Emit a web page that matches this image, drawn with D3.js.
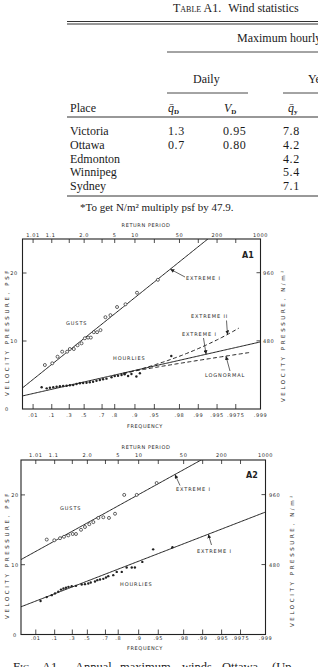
<!DOCTYPE html>
<html>
<head>
<meta charset="utf-8">
<script src="https://cdn.jsdelivr.net/npm/d3@7"></script>
<style>
    body { margin: 0; background: #fff; }
    svg { display: block; }
    .tbl { font-family: "Liberation Serif", "Times New Roman", serif; font-size: 12px; fill: #1a1a1a; }
    .lab { font-family: "DejaVu Sans", sans-serif; font-size: 5px; fill: #2a2a2a; letter-spacing: 0.6px; }
    .ann { font-family: "DejaVu Sans", sans-serif; font-size: 5px; fill: #2a2a2a; letter-spacing: 0.9px; }
    .ttl { font-family: "DejaVu Sans", sans-serif; font-size: 5.5px; fill: #2a2a2a; letter-spacing: 2.6px; }
</style>
</head>
<body>
<svg id="fig" width="318" height="667"></svg>
<script>
// Tableau A1
const places = ["Victoria", "Ottawa", "Edmonton", "Winnipeg", "Sydney"];
const dailyQ = [1.3, 0.7, null, null, null];
const dailyV = [0.95, 0.80, null, null, null];
const yearlyQ = [7.8, 4.2, 4.2, 5.4, 7.1];

// Graduations
const freqTicks = [0.01, 0.1, 0.3, 0.5, 0.7, 0.8, 0.9, 0.95, 0.98, 0.99, 0.995, 0.9975, 0.999];
const freqLabels = [".01", ".1", ".3", ".5", ".7", ".8", ".9", ".95", ".98", ".99", ".995", ".9975", ".999"];
const returnPeriods = [1.01, 1.1, 2, 5, 10, 50, 200, 1000];
const returnLabels = ["1.01", "1.1", "2.0", "5", "10", "50", "200", "1000"];
const psfTicks = [10, 20];
const nm2Ticks = [480, 960];

// A1 : rafales et horaires
const a1GustF = [0.051, 0.104, 0.156, 0.209, 0.272, 0.308, 0.362, 0.413, 0.466, 0.509, 0.550, 0.582, 0.616, 0.651, 0.685, 0.730, 0.770, 0.815, 0.861, 0.907, 0.956];
const a1GustQ = [6.47, 6.72, 7.69, 8.43, 8.43, 8.82, 8.82, 9.37, 9.66, 10.4, 10.5, 10.5, 11.3, 11.3, 11.6, 13.5, 13.8, 15.0, 15.4, 17.1, 19.0];
const a1HourF = [0.035, 0.062, 0.085, 0.113, 0.146, 0.182, 0.221, 0.265, 0.308, 0.353, 0.399, 0.444, 0.487, 0.530, 0.570, 0.608, 0.645, 0.679, 0.709, 0.739, 0.778, 0.800, 0.821, 0.841, 0.857, 0.873, 0.887, 0.905, 0.916, 0.973];
const a1HourQ = [3.19, 3.04, 3.13, 3.19, 3.28, 3.34, 3.38, 3.43, 3.49, 3.53, 3.68, 3.78, 3.82, 3.87, 3.93, 4.01, 4.16, 4.26, 4.37, 4.46, 4.66, 4.85, 4.90, 5.00, 5.10, 4.85, 5.15, 4.78, 5.25, 7.79];
const a1GustFit = [9.22, 3.186];     // q = a + b*u (Extreme I)
const a1HourFit = [3.65, 0.9];       // Extreme I
const a1Ext2Fit = [3.64, 0.194];     // q = s*exp(c*u) (Extreme II)
const a1LogFit = [1.421, 0.2346];    // ln q = m + s*z (lognormal)

// A2
const a2GustF = [0.046, 0.097, 0.151, 0.195, 0.247, 0.305, 0.349, 0.417, 0.469, 0.524, 0.573, 0.629, 0.680, 0.731, 0.778, 0.836, 0.893, 0.947];
const a2GustQ = [13.6, 13.5, 13.8, 14.0, 14.2, 14.4, 14.4, 15.0, 15.4, 15.8, 16.1, 16.7, 16.8, 16.7, 17.3, 20.0, 20.0, 21.7];
const a2HourF = [0.021, 0.046, 0.077, 0.103, 0.133, 0.161, 0.189, 0.219, 0.250, 0.292, 0.349, 0.426, 0.469, 0.512, 0.542, 0.592, 0.618, 0.647, 0.680, 0.705, 0.725, 0.765, 0.790, 0.822, 0.849, 0.873, 0.886, 0.912, 0.940, 0.970];
const a2HourQ = [4.79, 5.36, 5.64, 5.89, 6.14, 6.43, 6.60, 6.69, 6.83, 6.93, 6.97, 7.17, 7.21, 7.31, 7.46, 7.60, 7.79, 7.89, 7.97, 8.17, 8.36, 8.50, 8.97, 8.97, 9.60, 9.60, 9.60, 10.4, 12.2, 12.5];
const a2GustFit = [15.2, 2.157];
const a2HourFit = [7.1, 1.512];

const PSF_TO_NM2 = 47.9;

// Variable réduite de Gumbel
const gumbel = F => -Math.log(-Math.log(F));
const probit = p => {
    const q = p < 0.5 ? p : 1 - p;
    const t = Math.sqrt(-2 * Math.log(q));
    const z = t - (2.515517 + 0.802853 * t + 0.010328 * t * t) / (1 + 1.432788 * t + 0.189269 * t * t + 0.001308 * t * t * t);
    return p < 0.5 ? -z : z;
};
const ext1 = p => u => p[0] + p[1] * u;
const ext2 = p => u => p[0] * Math.exp(p[1] * u);
const logn = p => u => Math.exp(p[0] + p[1] * probit(Math.exp(-Math.exp(-u))));

const svg = d3.select("#fig");
const ink = "#222";

// ---- Tableau
const t = svg.append("g");
const title = t.append("text").attr("class", "tbl").attr("x", 173).attr("y", 12);
title.append("tspan").style("font-variant", "small-caps").text("Table A1.");
title.append("tspan").attr("dx", 7).text("Wind statistics");

const rule = (x1, x2, yy, w) => t.append("line")
    .attr("x1", x1).attr("x2", x2).attr("y1", yy).attr("y2", yy)
    .attr("stroke", "#333").attr("stroke-width", w || 0.9);
rule(67, 318, 21.5, 1); rule(67, 318, 24, 1);
t.append("text").attr("class", "tbl").attr("x", 237).attr("y", 42).text("Maximum hourly");
rule(167, 318, 52);
t.append("text").attr("class", "tbl").attr("x", 193).attr("y", 83).text("Daily");
t.append("text").attr("class", "tbl").attr("x", 308).attr("y", 83).text("Yearly");
rule(167, 248, 93); rule(283, 318, 93);
t.append("text").attr("class", "tbl").attr("x", 70).attr("y", 112).text("Place");

function symbol(xx, letter, sub) {
    const s = t.append("text").attr("class", "tbl").attr("x", xx).attr("y", 112);
    s.append("tspan").style("font-style", "italic").text(letter);
    s.append("tspan").attr("dy", 2).style("font-size", "7px").style("font-weight", "bold").text(sub);
}
symbol(168, "q\u0304", "D");
symbol(224, "V", "D");
symbol(288, "q\u0304", "y");
rule(67, 318, 117, 1.2);

places.forEach((p, i) => {
    const yy = 135 + i * 13.75;
    t.append("text").attr("class", "tbl").attr("x", 70).attr("y", yy).text(p);
    if (dailyQ[i] != null) t.append("text").attr("class", "tbl").attr("x", 168).attr("y", yy).style("letter-spacing", "0.6px").text(dailyQ[i].toFixed(1));
    if (dailyV[i] != null) t.append("text").attr("class", "tbl").attr("x", 223).attr("y", yy).style("letter-spacing", "0.6px").text(dailyV[i].toFixed(2));
    t.append("text").attr("class", "tbl").attr("x", 283).attr("y", yy).style("letter-spacing", "0.6px").text(yearlyQ[i].toFixed(1));
});
rule(67, 318, 196, 1);
t.append("text").attr("class", "tbl").attr("x", 80).attr("y", 211).style("font-size", "11px")
    .text("*To get N/m\u00b2 multiply psf by " + PSF_TO_NM2 + ".");

// ---- Graphiques
svg.append("defs").append("marker")
    .attr("id", "arr").attr("viewBox", "0 0 6 6").attr("refX", 6).attr("refY", 3)
    .attr("markerWidth", 4).attr("markerHeight", 4).attr("markerUnits", "userSpaceOnUse")
    .attr("orient", "auto")
    .append("path").attr("d", "M0,0 L6,3 L0,6 Z").attr("fill", ink);

function drawChart(c) {
    const g = svg.append("g");
    const x = d3.scaleLinear().domain([c.uMin, gumbel(0.999)]).range([c.left, c.right]);
    const y = d3.scaleLinear().domain([0, 25]).range([c.bottom, c.top]);
    const yN = d3.scaleLinear().domain([0, 25 * PSF_TO_NM2]).range([c.bottom, c.top]);
    const xF = F => x(gumbel(F));

    g.append("clipPath").attr("id", "clip" + c.tag).append("rect")
        .attr("x", c.left).attr("y", c.top).attr("width", c.right - c.left).attr("height", c.bottom - c.top);

    // cadre
    g.append("rect").attr("x", c.left).attr("y", c.top)
        .attr("width", c.right - c.left).attr("height", c.bottom - c.top)
        .attr("fill", "none").attr("stroke", ink).attr("stroke-width", 1.1);

    // graduations haut / bas
    g.selectAll(".tt").data(freqTicks.slice(0, -1)).join("line")
        .attr("x1", xF).attr("x2", xF).attr("y1", c.top).attr("y2", c.top + 4)
        .attr("stroke", ink).attr("stroke-width", 0.8);
    g.selectAll(".bt").data(freqTicks.slice(0, -1)).join("line")
        .attr("x1", xF).attr("x2", xF).attr("y1", c.bottom).attr("y2", c.bottom - 5)
        .attr("stroke", ink).attr("stroke-width", 0.8);
    g.selectAll(".bl").data(freqTicks).join("text").attr("class", "lab")
        .attr("x", xF).attr("y", c.fqLabelY).attr("text-anchor", "middle")
        .text((d, i) => freqLabels[i]);
    g.selectAll(".tl").data(returnPeriods).join("text").attr("class", "lab")
        .attr("x", d => xF(1 - 1 / d)).attr("y", c.rpLabelY).attr("text-anchor", "middle")
        .text((d, i) => returnLabels[i]);
    g.append("text").attr("class", "lab").attr("x", 146).attr("y", c.rpTitleY)
        .attr("text-anchor", "middle").text("RETURN PERIOD");
    g.append("text").attr("class", "lab").attr("x", 145).attr("y", c.fqTitleY)
        .attr("text-anchor", "middle").text("FREQUENCY");

    // axe gauche (psf)
    g.selectAll(".lt").data(psfTicks).join("line")
        .attr("x1", c.left).attr("x2", c.left + 4).attr("y1", y).attr("y2", y)
        .attr("stroke", ink).attr("stroke-width", 0.8);
    g.selectAll(".ll").data(psfTicks).join("text").attr("class", "lab")
        .attr("x", c.leftLabX).attr("y", d => y(d) + 2).attr("text-anchor", "middle").text(d => d);
    g.append("text").attr("class", "lab").attr("x", c.zeroX).attr("y", y(0) + 2)
        .attr("text-anchor", "middle").text("0");
    g.append("text").attr("class", "ttl")
        .attr("transform", `translate(${c.leftTitleX},${c.titleMidY}) rotate(-90)`)
        .attr("text-anchor", "middle").text("VELOCITY PRESSURE, PSF");

    // axe droit (N/m2)
    g.selectAll(".rt").data(nm2Ticks).join("line")
        .attr("x1", c.right - 4).attr("x2", c.right).attr("y1", yN).attr("y2", yN)
        .attr("stroke", ink).attr("stroke-width", 0.8);
    g.selectAll(".rl").data(nm2Ticks).join("text").attr("class", "lab")
        .attr("x", c.rightLabX).attr("y", d => yN(d) + 2).text(d => d);
    g.append("text").attr("class", "ttl")
        .attr("transform", `translate(${c.rightTitleX},${c.rightTitleMidY}) rotate(-90)`)
        .attr("text-anchor", "middle").text("VELOCITY PRESSURE, N/m\u00b2");

    g.append("text").attr("x", c.tagX).attr("y", c.tagY)
        .style("font-family", "'DejaVu Sans', sans-serif").style("font-size", "8px")
        .style("font-weight", "bold").attr("fill", ink).text(c.tag);

    // courbes ajustées
    const lines = g.append("g").attr("clip-path", `url(#clip${c.tag})`);
    const line = d3.line().x(d => x(d[0])).y(d => y(d[1]));
    c.fits.forEach(f => {
        const u0 = f.from != null ? gumbel(f.from) : c.uMin;
        const u1 = f.to != null ? gumbel(f.to) : gumbel(0.999);
        const us = d3.range(u0, u1, 0.05).concat([u1]);
        lines.append("path")
            .attr("d", line(us.map(u => [u, f.model(u)])))
            .attr("fill", "none").attr("stroke", ink).attr("stroke-width", 1)
            .attr("stroke-dasharray", f.dash ? "4,2.5" : null);
    });

    // points
    g.selectAll(".gust").data(c.gustF).join("circle")
        .attr("cx", xF).attr("cy", (d, i) => y(c.gustQ[i])).attr("r", 1.5)
        .attr("fill", "#fff").attr("stroke", ink).attr("stroke-width", 0.7);
    g.selectAll(".hour").data(c.hourF).join("circle")
        .attr("cx", xF).attr("cy", (d, i) => y(c.hourQ[i])).attr("r", 1.2)
        .attr("fill", ink);

    // étiquettes
    c.notes.forEach(n => {
        g.append("text").attr("class", "ann").attr("x", n.x).attr("y", n.y).text(n.text);
        if (n.model) {
            g.append("line")
                .attr("x1", n.from[0]).attr("y1", n.from[1])
                .attr("x2", xF(n.at)).attr("y2", y(n.model(gumbel(n.at))))
                .attr("stroke", ink).attr("stroke-width", 0.7).attr("marker-end", "url(#arr)");
        }
    });
}

drawChart({
    tag: "A1", left: 22.5, right: 260.5, top: 239, bottom: 409, uMin: -1.92,
    rpTitleY: 227, rpLabelY: 237, fqLabelY: 417, fqTitleY: 428,
    leftLabX: 14, zeroX: 7, rightLabX: 263, leftTitleX: 9, rightTitleX: 285,
    titleMidY: 332, rightTitleMidY: 335, tagX: 242, tagY: 258,
    gustF: a1GustF, gustQ: a1GustQ, hourF: a1HourF, hourQ: a1HourQ,
    fits: [
        { model: ext1(a1GustFit) },
        { model: ext1(a1HourFit) },
        { model: ext2(a1Ext2Fit), from: 0.85, to: 0.99776, dash: true },
        { model: logn(a1LogFit), from: 0.85, to: 0.99858, dash: true }
    ],
    notes: [
        { text: "EXTREME I", x: 186, y: 280, from: [185, 277], model: ext1(a1GustFit), at: 0.972 },
        { text: "EXTREME II", x: 191, y: 318, from: [226.5, 320.5], model: ext2(a1Ext2Fit), at: 0.9966 },
        { text: "EXTREME I", x: 182, y: 336, from: [203.5, 338], model: ext1(a1HourFit), at: 0.9925 },
        { text: "LOGNORMAL", x: 205, y: 377, from: [230, 371], model: logn(a1LogFit), at: 0.9964 },
        { text: "GUSTS", x: 66, y: 325 },
        { text: "HOURLIES", x: 113, y: 360 }
    ]
});

drawChart({
    tag: "A2", left: 21, right: 265.5, top: 460, bottom: 634.5, uMin: -2.07,
    rpTitleY: 449, rpLabelY: 457, fqLabelY: 640, fqTitleY: 650,
    leftLabX: 15, zeroX: 15, rightLabX: 269, leftTitleX: 9, rightTitleX: 294,
    titleMidY: 555, rightTitleMidY: 560, tagX: 246, tagY: 478,
    gustF: a2GustF, gustQ: a2GustQ, hourF: a2HourF, hourQ: a2HourQ,
    fits: [
        { model: ext1(a2GustFit) },
        { model: ext1(a2HourFit) }
    ],
    notes: [
        { text: "EXTREME I", x: 176, y: 491, from: [180, 485.5], model: ext1(a2GustFit), at: 0.9726 },
        { text: "EXTREME I", x: 197, y: 553, from: [211.5, 545], model: ext1(a2HourFit), at: 0.99185 },
        { text: "GUSTS", x: 60, y: 510 },
        { text: "HOURLIES", x: 120, y: 586 }
    ]
});

// Légende de la figure (coupée en bas)
const caption = [["Fig.", 13], ["A1.", 42], ["Annual", 75], ["maximum", 120], ["winds,", 182], ["Ottawa", 222], ["(Up-", 272]];
caption.forEach(([w, xx]) => {
    svg.append("text").attr("class", "tbl").attr("x", xx).attr("y", 671).style("font-size", "12.5px")
        .style("font-variant", w === "Fig." ? "small-caps" : null).text(w);
});
</script>
</body>
</html>
